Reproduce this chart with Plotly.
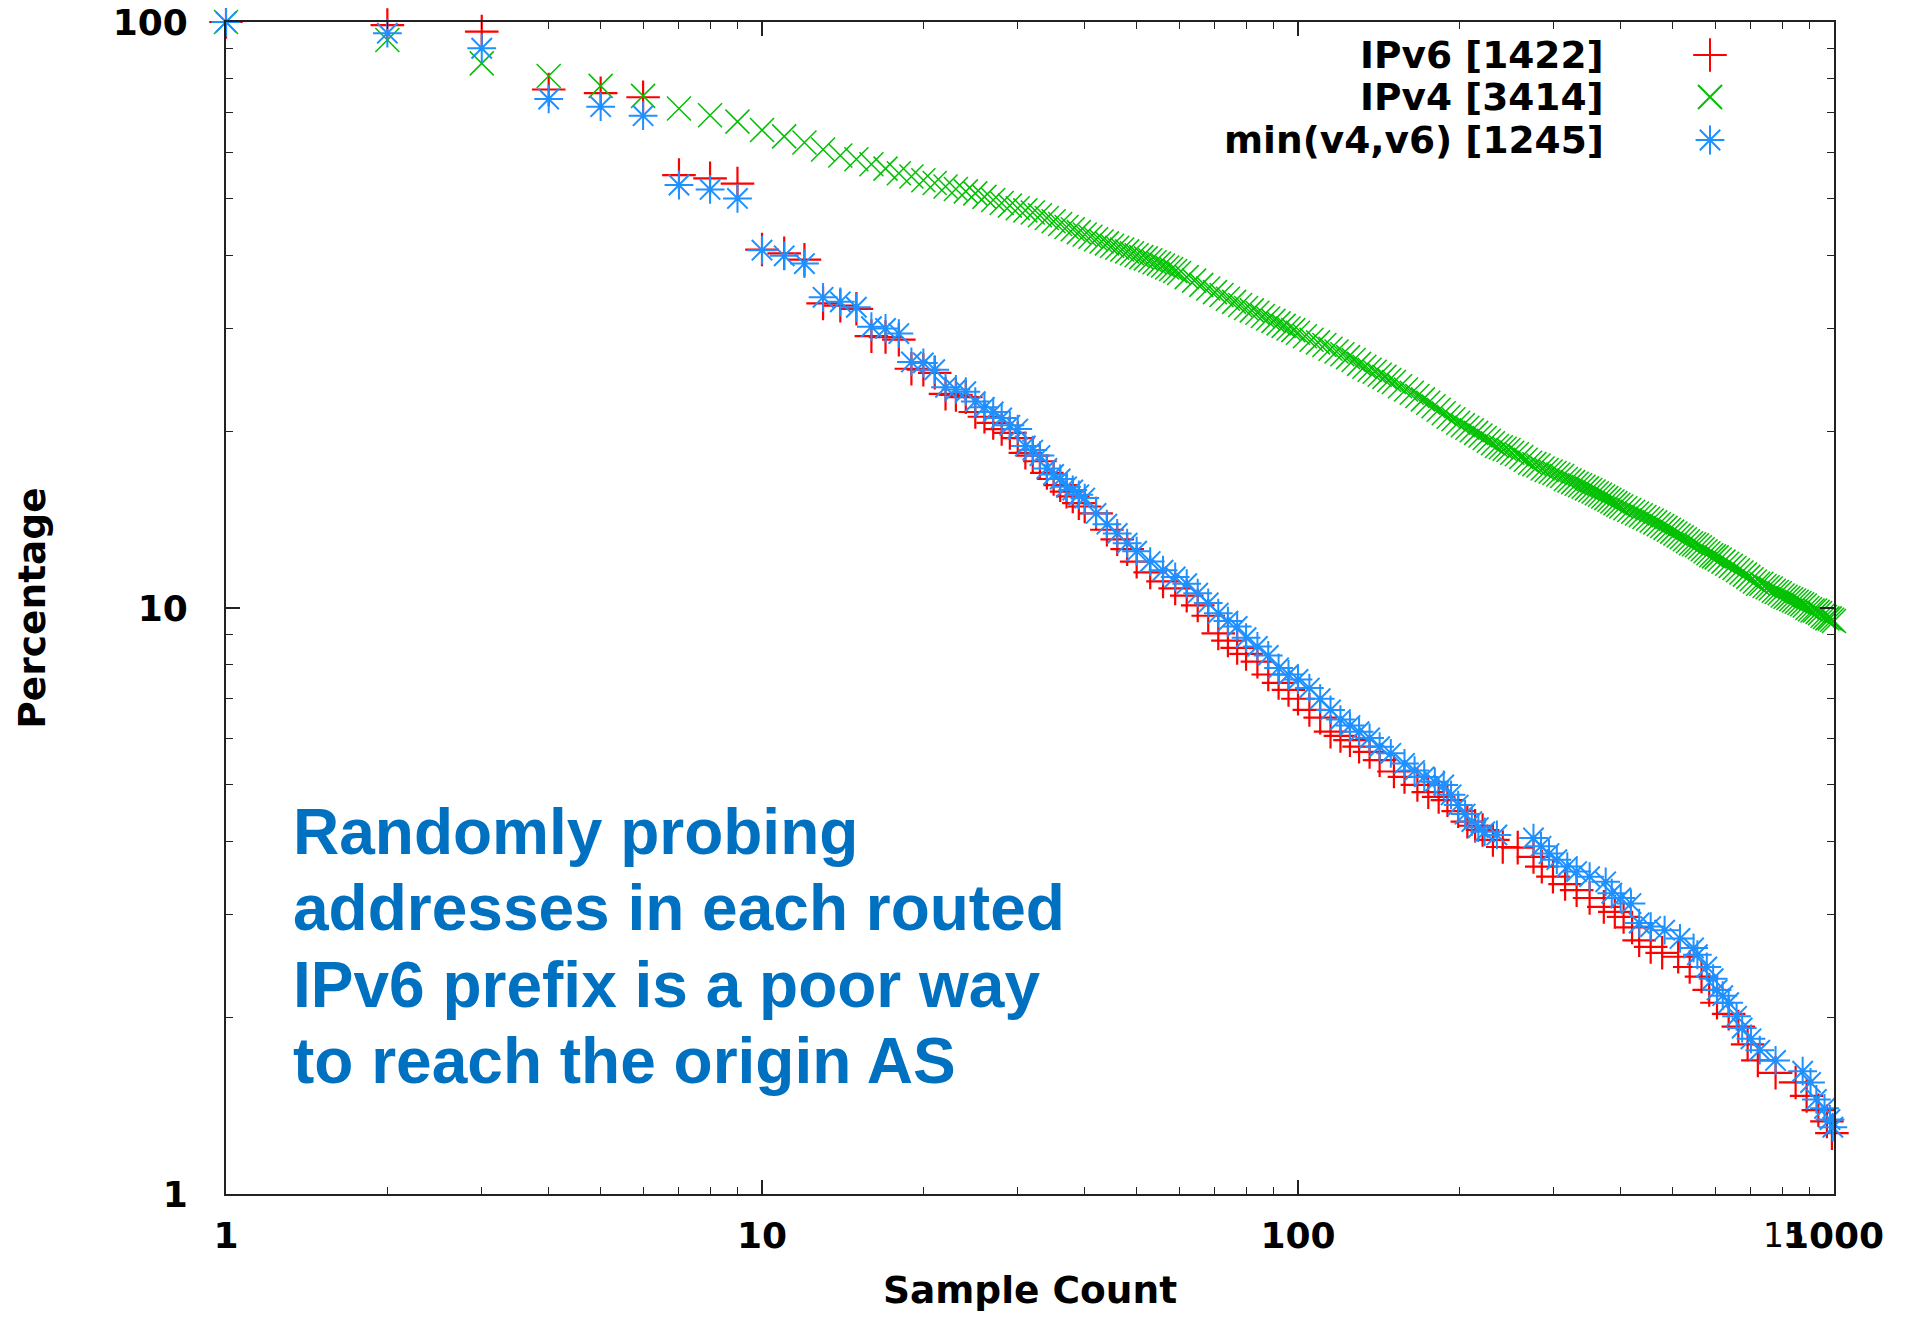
import plotly.graph_objects as go

# ---------------- data ----------------
series_names = ["IPv6 [1422]", "IPv4 [3414]", "min(v4,v6) [1245]"]

ipv6_x = [1, 2, 3, 4, 5, 6, 7, 8, 9, 10, 11, 12, 13, 14, 15, 16, 17, 18, 19, 20,
          21, 22, 23, 24, 25, 26, 27, 28, 29, 30,
          31, 32, 33, 34, 35, 36, 37, 38, 39, 40,
          42, 44, 46, 48, 50,
          53, 56, 59, 62, 65, 68, 71, 74, 77, 80,
          84, 88, 92, 96, 100,
          105, 110, 115, 120, 125, 130, 136, 142, 151, 158,
          167, 175, 183, 190, 199, 207, 214, 221, 231, 241,
          257, 275, 285, 299, 315, 331, 350, 372, 390, 405,
          420, 433, 455, 478, 512, 538, 566, 585, 605, 636,
          663, 690, 721, 778, 848, 889, 935, 970, 991]
ipv6_y = [100, 98.8, 96.3, 76.7, 75.6, 74.4, 54.8, 54.1, 53.0, 40.9, 40.3, 39.3, 33.1, 32.8, 32.4,
          29.1, 29.0, 28.7, 25.6, 25.5, 25.2, 23.2, 23.1, 22.9, 21.6, 21.2, 20.7, 20.2, 19.9, 19.5,
          18.4, 18.2, 17.8, 17.0, 16.6, 16.2, 15.8, 15.5, 15.1, 14.9,
          14.5, 13.6, 13.1, 12.6, 12.0,
          11.5, 11.1, 10.8, 10.5, 10.1, 9.7, 9.05, 8.8, 8.55, 8.35,
          8.1, 7.7, 7.45, 7.25, 7.0,
          6.7, 6.5, 6.15, 6.05, 5.95, 5.8, 5.68, 5.5, 5.26, 5.15,
          4.99, 4.85, 4.76, 4.70, 4.5, 4.32, 4.25, 4.18, 4.02, 3.91,
          3.90, 3.76, 3.62, 3.48, 3.38, 3.30, 3.20, 3.09, 3.03, 2.97,
          2.85, 2.71, 2.64, 2.58, 2.54, 2.44, 2.35, 2.23, 2.12, 2.03,
          1.93, 1.80, 1.69, 1.61, 1.55, 1.47, 1.39, 1.33, 1.27]

ipv4_x = [1, 2, 3, 4, 5, 6, 7, 8, 9, 10, 11, 12, 13, 14, 15, 16, 17, 18, 19, 20,
          21, 22, 23, 24, 25, 26, 27, 28, 29, 30,
          31, 32, 33, 34, 35, 36, 37, 38, 39, 40, 41, 42, 43, 44, 45,
          46, 47, 48, 49, 50, 51, 52, 53, 54, 55, 56, 57, 58, 59, 60,
          62, 64, 66, 68, 70, 72, 74, 76, 78, 80,
          82, 84, 86, 88, 90, 92, 94, 96, 98, 100,
          103, 106, 109, 112, 115, 118, 121, 124, 127, 130,
          133, 136, 139, 142, 145, 148, 151,
          155, 159, 163, 167, 171, 175, 179, 183, 187, 191,
          195, 199, 203, 207, 211, 215, 219, 223, 227, 231,
          235, 239, 243, 247, 251,
          256, 261, 266, 271, 276, 281, 286, 291, 296, 301,
          306, 311, 316, 321, 326, 331, 336, 341, 346, 351,
          356, 361, 366, 371, 376, 381, 386, 391, 396, 401,
          408, 415, 422, 429, 436, 443, 450, 457, 464, 471,
          478, 485, 492, 499, 506, 513, 520, 527, 534, 541,
          548, 555, 562, 569, 576, 583, 590, 597, 604,
          612, 622, 632, 642, 652, 662, 672, 682, 692, 702,
          712, 722, 732, 742, 752, 762, 772, 782, 792, 802,
          812, 822, 832, 842, 852, 862, 872, 882, 892, 902,
          912, 922, 932, 942, 952, 962, 972, 982, 992, 1000]
ipv4_y = [100, 93.2, 85.0, 80.9, 77.8, 74.8, 71.2, 69.3, 67.6, 65.4, 63.8, 62.3, 60.6, 59.2, 58.3,
          57.2, 56.2, 55.2, 54.5, 53.7, 53.1, 52.4, 51.9, 51.4, 51.0, 50.3, 49.7, 49.1, 48.6, 48.1,
          47.7, 47.3, 46.8, 46.3, 45.7, 45.2, 44.7, 44.3, 43.8, 43.4, 43.0, 42.6, 42.2, 41.9, 41.5,
          41.2, 40.9, 40.6, 40.3, 40.0, 39.7, 39.5, 39.2, 38.9, 38.7, 38.4, 38.1, 37.9, 37.6, 37.3,
          36.7, 36.2, 35.6, 35.1, 34.6, 34.2, 33.7, 33.3, 32.9, 32.5,
          32.2, 31.9, 31.5, 31.2, 30.9, 30.6, 30.3, 30.0, 29.8, 29.5,
          29.1, 28.7, 28.4, 28.1, 27.7, 27.4, 27.1, 26.8, 26.5, 26.1,
          25.8, 25.5, 25.3, 25.0, 24.8, 24.5, 24.3,
          23.9, 23.6, 23.3, 23.0, 22.7, 22.4, 22.1, 21.8, 21.5, 21.2,
          21.0, 20.7, 20.5, 20.3, 20.1, 19.9, 19.7, 19.5, 19.3, 19.1,
          18.9, 18.8, 18.7, 18.6, 18.4,
          18.3, 18.1, 17.9, 17.7, 17.6, 17.5, 17.3, 17.2, 17.1, 17.0,
          16.9, 16.8, 16.6, 16.5, 16.4, 16.3, 16.2, 16.1, 16.0, 15.9,
          15.8, 15.7, 15.6, 15.5, 15.4, 15.3, 15.2, 15.1, 15.0, 14.9,
          14.8, 14.7, 14.6, 14.5, 14.4, 14.3, 14.2, 14.1, 14.0, 13.9,
          13.8, 13.7, 13.6, 13.5, 13.4, 13.3, 13.2, 13.1, 13.0, 12.9,
          12.85, 12.8, 12.7, 12.6, 12.5, 12.4, 12.3, 12.25, 12.2,
          12.1, 12.0, 11.9, 11.8, 11.7, 11.6, 11.5, 11.4, 11.3, 11.2,
          11.1, 11.0, 11.0, 10.9, 10.85, 10.8, 10.7, 10.65, 10.6, 10.5,
          10.45, 10.4, 10.35, 10.3, 10.25, 10.2, 10.15, 10.1, 10.0, 9.95,
          9.9, 9.9, 9.85, 9.8, 9.7, 9.65, 9.6, 9.6, 9.55, 9.5]

min_x = [1, 2, 3, 4, 5, 6, 7, 8, 9, 10, 11, 12, 13, 14, 15, 16, 17, 18, 19, 20,
         21, 22, 23, 24, 25, 26, 27, 28, 29, 30,
         31, 32, 33, 34, 35, 36, 37, 38, 39, 40,
         42, 44, 46, 48, 50,
         53, 56, 59, 62, 65, 68, 71, 74, 77, 80,
         84, 88, 92, 96, 100,
         105, 110, 115, 120, 125, 130, 136, 142, 149, 158,
         165, 172, 180, 187, 193, 199, 205, 211, 217, 223,
         235, 275, 284, 294, 304, 318, 331, 350, 375, 385,
         400, 418, 433, 455, 483, 516, 547, 556, 579, 595,
         605, 620, 636, 658, 674, 700, 727, 778, 874, 904,
         927, 960, 983, 995]
min_y = [100, 95.7, 90.2, 73.9, 71.7, 69.2, 52.7, 51.8, 50.0, 40.8, 39.9, 38.7, 33.9, 33.3, 32.6,
         30.2, 30.0, 29.4, 26.3, 26.2, 25.5, 23.8, 23.6, 23.4, 22.5, 22.0, 21.6, 21.1, 20.5, 20.2,
         18.9, 18.6, 18.2, 17.3, 16.9, 16.6, 16.1, 15.9, 15.6, 15.4,
         14.5, 13.9, 13.4, 12.9, 12.5,
         12.0, 11.6, 11.3, 11.0, 10.6, 10.2, 9.8, 9.5, 9.3, 8.9,
         8.6, 8.3, 7.9, 7.7, 7.55,
         7.3, 7.0, 6.7, 6.45, 6.3, 6.15, 6.0, 5.8, 5.65, 5.43,
         5.28, 5.15, 5.05, 4.99, 4.8, 4.61, 4.45, 4.32, 4.22, 4.15,
         4.10, 4.05, 3.92, 3.81, 3.72, 3.62, 3.55, 3.48, 3.41, 3.26,
         3.20, 3.13, 2.90, 2.86, 2.82, 2.73, 2.63, 2.56, 2.44, 2.33,
         2.23, 2.18, 2.12, 2.01, 1.92, 1.84, 1.76, 1.69, 1.62, 1.55,
         1.45, 1.40, 1.34, 1.30]

x_major = [1, 10, 100, 1000]
x_major_text = ["1", "10", "100", "1000"]
y_major = [1, 10, 100]
y_major_text = ["1", "10", "100"]
x_minor = [2, 3, 4, 5, 6, 7, 8, 9, 20, 30, 40, 50, 60, 70, 80, 90,
           200, 300, 400, 500, 600, 700, 800, 900]
y_minor = [2, 3, 4, 5, 6, 7, 8, 9, 20, 30, 40, 50, 60, 70, 80, 90]

annotation_lines = ["Randomly probing", "addresses in each routed",
                    "IPv6 prefix is a poor way", "to reach the origin AS"]

# ---------------- styling ----------------
RED = "#ff0000"
GREEN = "#00c000"
BLUE = "#1e90ff"
NOTE_BLUE = "#0070c0"
FONT = "DejaVu Sans"

# page body has an 8px margin; figure is sized so it fills the window exactly
OFF = 8
W, H = 1911 - 2 * OFF, 1320 - 2 * OFF
# plot frame in screen pixels: x 226..1834, y 22..1194
L, T = 226 - OFF, 22 - OFF
R = W - (1834 - OFF)
B = H - (1194 - OFF)
PW, PH = W - L - R, H - T - B


def px_x(p):
    """screen x pixel -> paper fraction"""
    return (p - OFF - L) / PW


def px_y(p):
    """screen y pixel -> paper fraction"""
    return (H - B - (p - OFF)) / PH


fig = go.Figure()

styles = [
    (ipv6_x, ipv6_y, RED, "cross-thin", 24, 2.2),
    (ipv4_x, ipv4_y, GREEN, "x-thin", 24, 1.5),
    (min_x, min_y, BLUE, "asterisk", 24, 2.0),
]
for name, (xs, ys, col, sym, sz, lw) in zip(series_names, styles):
    fig.add_trace(go.Scatter(
        x=xs, y=ys, mode="markers", name=name, showlegend=False,
        cliponaxis=False,
        marker=dict(symbol=sym, size=sz, color=col,
                    line=dict(color=col, width=lw)),
        xaxis="x", yaxis="y"))

# gnuplot-style key: right-aligned text, sample to its right
key_rows_px = [55, 97, 140]
key_marker_x = px_x(1710)
for name, (xs, ys, col, sym, sz, lw), rowpx in zip(series_names, styles, key_rows_px):
    fig.add_trace(go.Scatter(
        x=[key_marker_x], y=[px_y(rowpx)], mode="markers", showlegend=False,
        hoverinfo="skip", cliponaxis=False,
        marker=dict(symbol=sym, size=sz, color=col, line=dict(color=col, width=2.0)),
        xaxis="x2", yaxis="y2"))
    fig.add_annotation(x=px_x(1606), y=px_y(rowpx), xref="paper", yref="paper",
                       text=name, showarrow=False, xanchor="right", yanchor="middle",
                       font=dict(family=FONT, size=37.5, color="black", weight="bold"))

# blue note text
note_rows_px = [832, 908, 985, 1061]
for line, rowpx in zip(annotation_lines, note_rows_px):
    fig.add_annotation(x=px_x(291), y=px_y(rowpx), xref="paper", yref="paper",
                       text=line, showarrow=False, xanchor="left", yanchor="middle",
                       font=dict(family="Liberation Sans", size=64, color=NOTE_BLUE,
                                 weight="bold"))

# stray "15" label that overlaps the 1000 tick label in the reference
fig.add_annotation(x=px_x(1784), y=px_y(1235), xref="paper", yref="paper",
                   text="15", showarrow=False, xanchor="center", yanchor="middle",
                   font=dict(family=FONT, size=33, color="black"))

axis_common = dict(
    type="log", showgrid=False, zeroline=False,
    showline=True, linecolor="#222", linewidth=2, mirror="ticks",
    ticks="inside", ticklen=14, tickwidth=1.6, tickcolor="#222",
    ticklabeloverflow="allow",
    tickfont=dict(family=FONT, size=36, color="black", weight="bold"),
)

fig.update_layout(
    width=W, height=H,
    margin=dict(l=L, r=R, t=T, b=B, autoexpand=False),
    paper_bgcolor="white", plot_bgcolor="white",
    showlegend=False,
    xaxis=dict(**axis_common, range=[0, 3],
               tickvals=x_major, ticktext=x_major_text,
               ticklabelstandoff=9,
               minor=dict(tickvals=x_minor, ticks="inside", ticklen=7,
                          tickwidth=1.4, tickcolor="#222"),
               title=dict(text="Sample Count", standoff=33,
                          font=dict(family=FONT, size=37.5, color="black", weight="bold"))),
    yaxis=dict(**axis_common, range=[0, 2],
               tickvals=y_major, ticktext=y_major_text,
               ticklabelstandoff=29,
               minor=dict(tickvals=y_minor, ticks="inside", ticklen=7,
                          tickwidth=1.4, tickcolor="#222"),
               title=dict(text="Percentage", standoff=56,
                          font=dict(family=FONT, size=37.5, color="black", weight="bold"))),
    xaxis2=dict(overlaying="x", range=[0, 1], visible=False, fixedrange=True),
    yaxis2=dict(overlaying="y", range=[0, 1], visible=False, fixedrange=True),
)

fig.write_html("out.html")
